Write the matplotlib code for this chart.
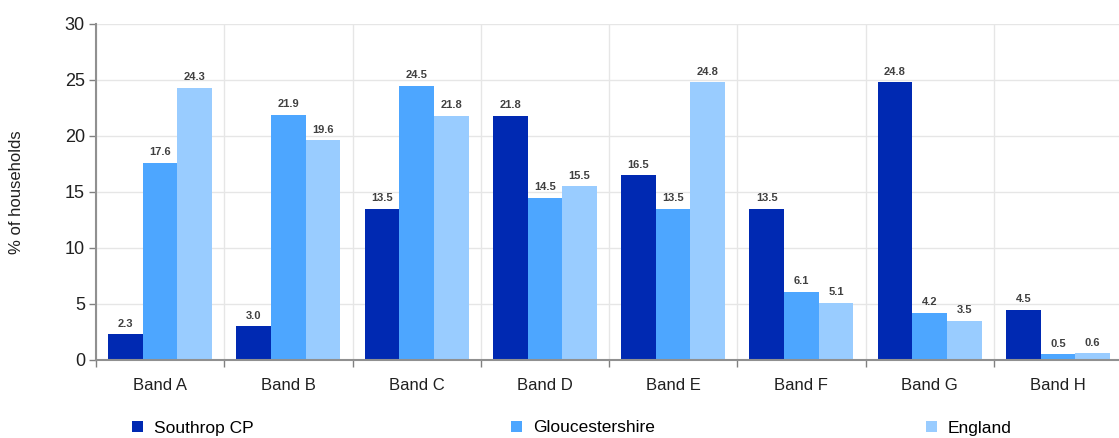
import matplotlib
matplotlib.use("Agg")
import matplotlib.pyplot as plt
from matplotlib.patches import Patch
import numpy as np

plt.rcParams["font.family"] = ["Liberation Sans", "DejaVu Sans"]

bands = ["Band A", "Band B", "Band C", "Band D", "Band E", "Band F", "Band G", "Band H"]
southrop = [2.3, 3.0, 13.5, 21.8, 16.5, 13.5, 24.8, 4.5]
gloucestershire = [17.6, 21.9, 24.5, 14.5, 13.5, 6.1, 4.2, 0.5]
england = [24.3, 19.6, 21.8, 15.5, 24.8, 5.1, 3.5, 0.6]
series_names = ["Southrop CP", "Gloucestershire", "England"]
colors = ["#0029B2", "#4DA6FF", "#99CCFF"]

fig = plt.figure(figsize=(11.19, 4.38), dpi=100)
ax = fig.add_axes([96 / 1119, 1 - 360 / 438, 1026 / 1119, 336 / 438])

x = np.arange(len(bands))
width = 0.27
grid_color = "#E6E6E6"
for i, (vals, col) in enumerate(zip([southrop, gloucestershire, england], colors)):
    pos = x + (i - 1) * width
    ax.bar(pos, vals, width, color=col, zorder=3)
    for xp, v in zip(pos, vals):
        ax.text(xp, v + 0.5, f"{v:.1f}", ha="center", va="bottom",
                fontsize=8, color="#404040", fontweight="bold", zorder=4)

ax.set_xlim(-0.5, len(bands) - 0.5)
ax.set_ylim(0, 30)
ax.set_yticks(range(0, 31, 5))
ax.tick_params(axis="y", labelsize=13, colors="#808080", labelcolor="#202020",
               length=5, width=1, pad=3)

# category boundaries as ticks / vertical grid
ax.set_xticks(np.arange(-0.5, len(bands), 1))
ax.set_xticklabels([])
ax.set_xticks(x, minor=True)
ax.set_xticklabels(bands, minor=True, fontsize=12, color="#202020")
ax.tick_params(axis="x", which="minor", length=0, pad=13)
ax.tick_params(axis="x", which="major", length=5, width=1, colors="#808080")
ax.grid(True, which="major", axis="both", color=grid_color, linewidth=1, zorder=0)

for s in ["top", "right"]:
    ax.spines[s].set_visible(False)
for s in ["left", "bottom"]:
    ax.spines[s].set_color("#909090")
    ax.spines[s].set_linewidth(1.5)
    ax.spines[s].set_zorder(5)

ax.set_ylabel("% of households", fontsize=12, color="#202020")
ax.yaxis.set_label_coords(-72 / 1026, 0.5)

# legend entries spread along the bottom
legend_x = [132 / 1119, 511 / 1119, 926 / 1119]
for name, col, lx in zip(series_names, colors, legend_x):
    fig.legend(handles=[Patch(facecolor=col, label=name)], loc="center left",
               bbox_to_anchor=(lx, 1 - 428 / 438), frameon=False, fontsize=12.5,
               handlelength=0.65, handleheight=0.65, handletextpad=0.6,
               borderaxespad=0, borderpad=0)

fig.savefig("out.png", dpi=100)
